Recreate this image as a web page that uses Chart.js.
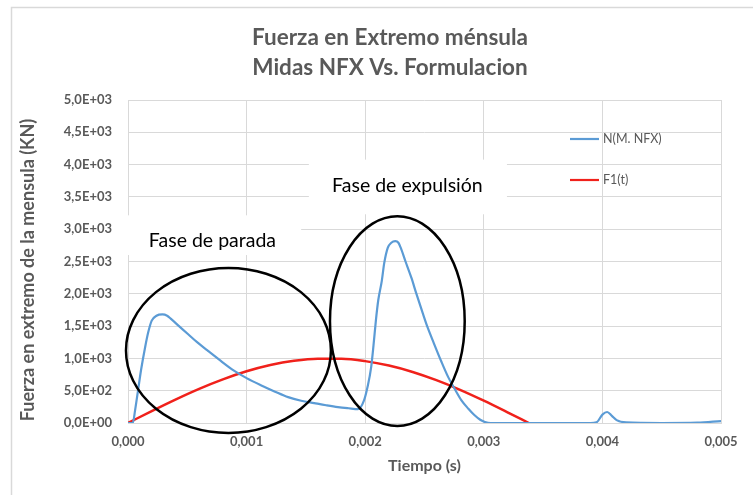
<!DOCTYPE html>
<html>
<head>
<meta charset="utf-8">
<script src="https://cdn.jsdelivr.net/npm/chart.js@4"></script>
<style>
  html, body { margin: 0; padding: 0; background: #fff; }
  #wrap { width: 753px; height: 495px; position: relative; }
</style>
</head>
<body>
<div id="wrap"><canvas id="c" width="753" height="495"></canvas></div>
<script>
// Fuerza en extremo de ménsula — Midas NFX vs. formulación
const titleLines = ['Fuerza en Extremo ménsula', 'Midas NFX Vs. Formulacion'];
const xTitle = 'Tiempo (s)';
const yTitle = 'Fuerza en extremo de la mensula (KN)';

// N(M. NFX) — time (s) / force (kN)
const nfxTime = [
  0, 0.00004, 0.00006, 0.000085, 0.00011, 0.000144, 0.00017, 0.0002, 0.00024, 0.00029,
  0.00033, 0.00036, 0.00043, 0.0005, 0.00058, 0.00067, 0.00078, 0.00089, 0.001, 0.00112,
  0.00124, 0.00135, 0.00146, 0.00157, 0.00167, 0.00177, 0.00186, 0.00194, 0.00199, 0.00202,
  0.00205, 0.00207, 0.00209, 0.00211, 0.00214, 0.00216, 0.00219, 0.00222, 0.002254, 0.00228,
  0.0023, 0.00234, 0.00239, 0.00243, 0.00247, 0.00252, 0.00258, 0.00264, 0.0027, 0.00276,
  0.00281, 0.00287, 0.00292, 0.00297, 0.00301, 0.00306, 0.0035, 0.0039, 0.00395, 0.004,
  0.00404, 0.00408, 0.00412, 0.0042, 0.0045, 0.0048, 0.005
];
const nfxForce = [
  0, 0, 200, 508, 820, 1170, 1400, 1585, 1660, 1680,
  1660, 1615, 1500, 1385, 1255, 1123, 965, 815, 695, 585,
  485, 400, 345, 308, 275, 246, 228, 215, 350, 560,
  860, 1200, 1585, 1900, 2200, 2470, 2710, 2790, 2815, 2790,
  2710, 2500, 2245, 2010, 1785, 1510, 1230, 960, 710, 510,
  355, 220, 123, 50, 15, 0, 0, 0, 10, 130,
  170, 110, 45, 10, 0, 5, 30
];

// F1(t)
const f1Time = [
  0, 0.0002, 0.0004, 0.0006, 0.0008, 0.001, 0.0012, 0.0014, 0.0016,
  0.0018, 0.002, 0.0022, 0.0024, 0.0026, 0.0028, 0.003, 0.0032, 0.00338
];
const f1Force = [
  0, 185, 363, 529, 676, 801, 898, 964, 996,
  995, 958, 889, 790, 663, 514, 346, 166, 0
];

const seriesLabels = ['N(M. NFX)', 'F1(t)'];
const seriesColors = ['#5B9BD5', '#F0211B'];

// callouts (data units)
const phaseLabels = ['Fase de parada', 'Fase de expulsión'];
const phaseLabelAt = [[0.000712, 2723], [0.002356, 3570]];
const phaseBoxes = [[-0.00004, 3215, 0.00146, 2600], [0.001525, 4077, 0.003195, 3231]];
const phaseEllipses = [[0.000847, 1123, 0.000864, 1277], [0.002271, 1577, 0.000568, 1623]];

const GREY = '#595959';
const FONT = 'Lato, "Open Sans", sans-serif';

function toPoints(xs, ys) {
  return xs.map((x, i) => ({ x, y: ys[i] }));
}

function fmtX(v) {
  return v.toFixed(3).replace('.', ',');
}

function fmtY(v) {
  if (v === 0) return '0,0E+00';
  const e = Math.floor(Math.log10(v) + 1e-9);
  const m = (v / Math.pow(10, e)).toFixed(1).replace('.', ',');
  return m + 'E+' + String(e).padStart(2, '0');
}

const decor = {
  id: 'decor',
  beforeDraw(chart) {
    const ctx = chart.ctx;
    ctx.save();
    ctx.fillStyle = '#fff';
    ctx.fillRect(0, 0, chart.width, chart.height);
    ctx.strokeStyle = '#d9d9d9';
    ctx.lineWidth = 1.5;
    ctx.strokeRect(11.5, 7.5, 780, 520);
    ctx.restore();
  },
  beforeDatasetsDraw(chart) {
    const { ctx, scales: { x, y } } = chart;
    ctx.save();
    ctx.fillStyle = '#fff';
    phaseBoxes.forEach(b => {
      const x0 = x.getPixelForValue(b[0]), x1 = x.getPixelForValue(b[2]);
      const y0 = y.getPixelForValue(b[1]), y1 = y.getPixelForValue(b[3]);
      ctx.fillRect(x0, y0, x1 - x0, y1 - y0);
    });
    ctx.fillStyle = '#000';
    ctx.font = '19.5px ' + FONT;
    ctx.textAlign = 'center';
    ctx.textBaseline = 'alphabetic';
    phaseLabels.forEach((t, i) => {
      ctx.fillText(t, x.getPixelForValue(phaseLabelAt[i][0]), y.getPixelForValue(phaseLabelAt[i][1]));
    });
    ctx.restore();
  },
  afterDatasetsDraw(chart) {
    const { ctx, chartArea: a, scales: { x, y } } = chart;
    ctx.save();
    // ellipses
    ctx.strokeStyle = '#000';
    ctx.lineWidth = 2.5;
    phaseEllipses.forEach(e => {
      const cx = x.getPixelForValue(e[0]), cy = y.getPixelForValue(e[1]);
      const rx = x.getPixelForValue(e[0] + e[2]) - cx;
      const ry = cy - y.getPixelForValue(e[1] + e[3]);
      ctx.beginPath();
      ctx.ellipse(cx, cy, rx, ry, 0, 0, Math.PI * 2);
      ctx.stroke();
    });
    // legend
    ctx.font = '12.5px ' + FONT;
    ctx.textBaseline = 'middle';
    ctx.textAlign = 'left';
    seriesLabels.forEach((lab, i) => {
      const ly = a.top + 39 + i * 41;
      const lx = a.right - 151;
      ctx.strokeStyle = seriesColors[i];
      ctx.lineWidth = 2.2;
      ctx.beginPath();
      ctx.moveTo(lx, ly);
      ctx.lineTo(lx + 29, ly);
      ctx.stroke();
      ctx.fillStyle = GREY;
      ctx.fillText(lab, lx + 33, ly);
    });
    // titles
    ctx.fillStyle = GREY;
    ctx.textAlign = 'center';
    ctx.textBaseline = 'middle';
    ctx.font = 'bold 22.5px ' + FONT;
    ctx.fillText(titleLines[0], 390, 38);
    ctx.fillText(titleLines[1], 390, 68);
    ctx.font = 'bold 16px ' + FONT;
    ctx.fillText(xTitle, (a.left + a.right) / 2, 466);
    ctx.font = 'bold 18px ' + FONT;
    ctx.translate(28, 270);
    ctx.rotate(-Math.PI / 2);
    ctx.fillText(yTitle, 0, 0);
    ctx.restore();
  }
};

new Chart(document.getElementById('c'), {
  type: 'line',
  data: {
    datasets: [
      {
        label: seriesLabels[0],
        data: toPoints(nfxTime, nfxForce),
        borderColor: seriesColors[0],
        borderWidth: 2.2,
        pointRadius: 0,
        cubicInterpolationMode: 'monotone'
      },
      {
        label: seriesLabels[1],
        data: toPoints(f1Time, f1Force),
        borderColor: seriesColors[1],
        borderWidth: 2.5,
        pointRadius: 0,
        cubicInterpolationMode: 'monotone'
      }
    ]
  },
  options: {
    responsive: false,
    animation: false,
    layout: { padding: { left: 0, top: 100, right: 32, bottom: 0 } },
    plugins: { legend: { display: false }, title: { display: false }, tooltip: { enabled: false } },
    scales: {
      x: {
        type: 'linear',
        min: 0, max: 0.005,
        afterFit(s) { s.height = 72; },
        afterBuildTicks(s) { s.ticks = [0, 0.001, 0.002, 0.003, 0.004, 0.005].map(v => ({ value: v })); },
        grid: { color: '#d9d9d9', lineWidth: 1, drawTicks: false },
        border: { color: '#d9d9d9' },
        ticks: { callback: v => fmtX(v), color: GREY, padding: 11, maxRotation: 0,
                 font: { family: FONT, size: 13, weight: 'bold' } }
      },
      y: {
        min: 0, max: 5000,
        afterFit(s) { s.width = 128; },
        ticks: { stepSize: 500, callback: v => fmtY(v), color: GREY, padding: 16,
                 font: { family: FONT, size: 13, weight: 'bold' } },
        grid: { color: '#d9d9d9', lineWidth: 1, drawTicks: false },
        border: { display: false }
      }
    }
  },
  plugins: [decor]
});
</script>
</body>
</html>
